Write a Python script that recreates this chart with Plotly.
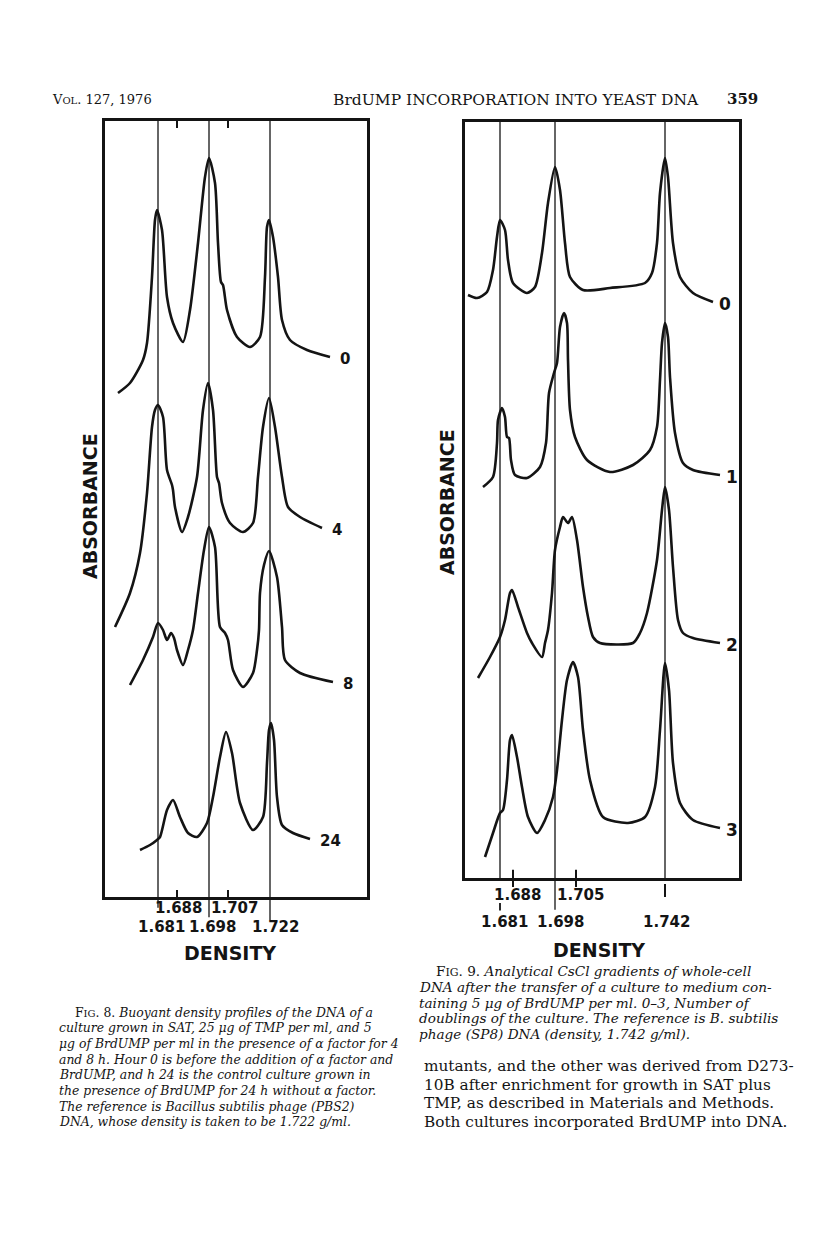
import plotly.graph_objects as go

# ---------------- DATA (read from the scanned page) ----------------
# Fig. 8 (left): positions along the gradient (chart units) of reference densities
F8_REF_LABELS = ["1.681", "1.698", "1.722"]
F8_REF_POS = [53, 104, 165]
F8_MARK_LABELS = ["1.688", "1.707"]
F8_MARK_POS = [72, 123]

# Fig. 8 absorbance traces (position, absorbance incl. vertical offset)
F8_H0_X = [13, 25, 38, 42, 47, 50, 52, 57, 62, 68, 78, 85, 93, 100, 104, 110, 113, 116, 118, 122, 132, 145, 155, 160, 162, 164, 168, 173, 177, 185, 202, 225]
F8_H0_Y = [504, 514, 537, 554, 620, 677, 687, 667, 600, 574, 555, 587, 654, 720, 739, 714, 654, 615, 612, 587, 560, 550, 560, 620, 670, 677, 660, 620, 577, 557, 547, 540]
F8_H4_X = [10, 25, 35, 42, 47, 50, 53, 58, 62, 67, 68, 70, 77, 83, 92, 98, 103, 108, 112, 114, 117, 125, 138, 148, 153, 158, 164, 170, 177, 183, 195, 217]
F8_H4_Y = [270, 304, 344, 404, 470, 487, 492, 480, 427, 412, 407, 390, 365, 380, 420, 487, 514, 487, 420, 414, 394, 374, 365, 374, 420, 470, 499, 470, 420, 390, 380, 369]
F8_H8_X = [25, 38, 48, 53, 58, 62, 66, 69, 72, 78, 83, 88, 93, 99, 104, 110, 115, 120, 123, 128, 138, 148, 152, 154, 155, 159, 164, 172, 177, 180, 195, 228]
F8_H8_Y = [212, 237, 260, 274, 267, 257, 264, 259, 247, 232, 247, 267, 304, 347, 370, 350, 270, 264, 257, 227, 210, 224, 247, 267, 304, 332, 346, 320, 270, 237, 224, 215]
F8_H24_X = [35, 45, 52, 55, 62, 68, 75, 83, 92, 102, 108, 115, 121, 127, 135, 148, 158, 162, 164, 166, 169, 172, 177, 188, 205]
F8_H24_Y = [47, 52, 57, 60, 87, 97, 80, 64, 60, 74, 100, 140, 165, 144, 94, 67, 80, 134, 167, 174, 157, 100, 72, 64, 58]
F8_CURVE_NAMES = ["0", "4", "8", "24"]

# Fig. 9 (right)
F9_REF_LABELS = ["1.681", "1.698", "1.742"]
F9_REF_POS = [35, 90, 200]
F9_MARK_LABELS = ["1.688", "1.705"]
F9_MARK_POS = [48, 111]

F9_D0_X = [3, 12, 22, 28, 32, 35, 40, 43, 48, 62, 70, 77, 83, 90, 95, 100, 105, 118, 145, 180, 187, 192, 195, 200, 203, 208, 215, 228, 248]
F9_D0_Y = [583, 580, 586, 608, 641, 658, 648, 618, 595, 585, 591, 625, 675, 711, 688, 635, 601, 588, 590, 595, 605, 635, 685, 720, 701, 635, 601, 585, 576]
F9_D1_X = [18, 28, 32, 33, 37, 40, 42, 44, 46, 50, 62, 75, 81, 84, 89, 92, 95, 99, 102, 103, 105, 110, 122, 145, 168, 185, 192, 195, 197, 200, 203, 205, 210, 218, 228, 255]
F9_D1_Y = [391, 401, 435, 458, 470, 461, 441, 440, 418, 403, 400, 411, 435, 485, 505, 515, 551, 565, 555, 518, 468, 441, 418, 406, 413, 428, 451, 498, 535, 555, 541, 501, 445, 415, 408, 403]
F9_D2_X = [13, 25, 35, 40, 45, 47, 53, 62, 67, 77, 80, 83, 87, 90, 95, 98, 103, 107, 112, 118, 123, 128, 135, 168, 175, 182, 192, 197, 200, 204, 208, 213, 218, 228, 255]
F9_D2_Y = [200, 221, 241, 258, 285, 288, 271, 245, 235, 221, 235, 248, 285, 328, 351, 361, 355, 361, 338, 291, 261, 241, 235, 235, 245, 265, 318, 368, 391, 368, 311, 258, 245, 240, 235]
F9_D3_X = [20, 28, 35, 38, 42, 45, 47, 52, 57, 63, 72, 80, 88, 92, 97, 102, 108, 113, 118, 125, 138, 163, 180, 190, 195, 200, 204, 208, 215, 228, 255]
F9_D3_Y = [21, 45, 65, 68, 98, 138, 143, 121, 91, 61, 45, 58, 81, 108, 158, 198, 216, 201, 148, 98, 61, 55, 61, 91, 148, 215, 188, 115, 75, 58, 50]
F9_CURVE_NAMES = ["0", "1", "2", "3"]

# ---------------- FIGURE ----------------
PAGE_W, PAGE_H = 816, 1240
OFF = 8                      # default body margin of the html page
W, H = PAGE_W - 2 * OFF, PAGE_H - 2 * OFF
INK = "#141414"
fig = go.Figure()

def px(xp):
    return (xp - OFF) / W

def py(yp):
    return 1 - (yp - OFF) / H

# page boxes in pixel terms -> axis domains
L_BOX = dict(x0=105, x1=367, top=121, bottom=897)
R_BOX = dict(x0=465, x1=739, top=122, bottom=878)

def dom_x(b):
    return [px(b["x0"]), px(b["x1"])]

def dom_y(b):
    return [py(b["bottom"]), py(b["top"])]

curve_line = dict(color=INK, width=2.6, shape="spline", smoothing=0.7)
for xs, ys in [(F8_H0_X, F8_H0_Y), (F8_H4_X, F8_H4_Y), (F8_H8_X, F8_H8_Y), (F8_H24_X, F8_H24_Y)]:
    fig.add_trace(go.Scatter(x=xs, y=ys, mode="lines", line=curve_line, xaxis="x", yaxis="y", showlegend=False, hoverinfo="skip"))
for xs, ys in [(F9_D0_X, F9_D0_Y), (F9_D1_X, F9_D1_Y), (F9_D2_X, F9_D2_Y), (F9_D3_X, F9_D3_Y)]:
    fig.add_trace(go.Scatter(x=xs, y=ys, mode="lines", line=curve_line, xaxis="x2", yaxis="y2", showlegend=False, hoverinfo="skip"))

axis_common = dict(showline=True, linecolor=INK, linewidth=2.6,
                   showgrid=False, zeroline=False, showticklabels=False, fixedrange=True)

fig.update_layout(
    width=W, height=H, margin=dict(l=0, r=0, t=0, b=0),
    paper_bgcolor="white", plot_bgcolor="white",
    xaxis=dict(domain=dom_x(L_BOX), range=[0, L_BOX["x1"] - L_BOX["x0"]], anchor="y",
               tickmode="array", tickvals=F8_MARK_POS, ticks="inside", ticklen=7, tickwidth=2,
               tickcolor=INK, mirror="ticks", **axis_common),
    yaxis=dict(domain=dom_y(L_BOX), range=[0, L_BOX["bottom"] - L_BOX["top"]], anchor="x", ticks="", mirror=True, **axis_common),
    xaxis2=dict(domain=dom_x(R_BOX), range=[0, R_BOX["x1"] - R_BOX["x0"]], anchor="y2", ticks="", mirror=True, **axis_common),
    yaxis2=dict(domain=dom_y(R_BOX), range=[0, R_BOX["bottom"] - R_BOX["top"]], anchor="x2", ticks="", mirror=True, **axis_common),
)

def vseg(xref, yref, x, y0, y1, width=1.3):
    fig.add_shape(type="line", xref=xref, yref=yref, x0=x, x1=x, y0=y0, y1=y1,
                  line=dict(color=INK, width=width), layer="above")

# Fig. 8 reference lines (extend slightly below the frame)
for pos, ext in zip(F8_REF_POS, [-0.014, -0.026, -0.030]):
    vseg("x", "y domain", pos, ext, 1)

# Fig. 9 reference lines, stubs and crossing ticks
vseg("x2", "y2 domain", F9_REF_POS[0], 0, 1)
vseg("x2", "y2 domain", F9_REF_POS[0], -0.033, -0.043, 1.8)
vseg("x2", "y2 domain", F9_REF_POS[1], -0.042, 1)
vseg("x2", "y2 domain", F9_REF_POS[2], 0, 1)
vseg("x2", "y2 domain", F9_REF_POS[2], -0.008, -0.025, 2)
for pos in F9_MARK_POS:
    vseg("x2", "y2 domain", pos, 0.011, -0.012, 2)

lab_font = dict(family="DejaVu Sans", size=15, color=INK, weight="bold")
den_font = dict(family="DejaVu Sans", size=19, color=INK, weight="bold")

def label(xref, yref, x, y, text, font):
    fig.add_annotation(xref=xref, yref=yref, x=x, y=y, text=text, showarrow=False,
                       xanchor="center", yanchor="middle", font=font)

# Fig. 8 density labels
for pos, t, dx in zip(F8_MARK_POS, F8_MARK_LABELS, [1, 6]):
    label("x", "y domain", pos + dx, -0.0145, t, lab_font)
for pos, t, dx in zip(F8_REF_POS, F8_REF_LABELS, [3, 3, 5]):
    label("x", "y domain", pos + dx, -0.039, t, lab_font)
label("x", "y domain", 125, -0.072, "DENSITY", den_font)

# Fig. 9 density labels
for pos, t, dx in zip(F9_MARK_POS, F9_MARK_LABELS, [4, 4]):
    label("x2", "y2 domain", pos + dx, -0.0225, t, lab_font)
for pos, t, dx in zip(F9_REF_POS, F9_REF_LABELS, [4, 5, 1]):
    label("x2", "y2 domain", pos + dx, -0.058, t, lab_font)
label("x2", "y2 domain", 134, -0.0955, "DENSITY", den_font)

# ABSORBANCE titles
for xp, yp in [(90, 506), (447, 502)]:
    fig.add_annotation(xref="paper", yref="paper", x=px(xp), y=py(yp), text="ABSORBANCE",
                       textangle=-90, showarrow=False, xanchor="center", yanchor="middle",
                       font=dict(family="DejaVu Sans", size=19, color=INK, weight="bold"))

# curve labels
cl_font = dict(family="DejaVu Sans", size=15, color=INK, weight="bold")
for name, xs, ys in zip(F8_CURVE_NAMES, [F8_H0_X, F8_H4_X, F8_H8_X, F8_H24_X], [F8_H0_Y, F8_H4_Y, F8_H8_Y, F8_H24_Y]):
    fig.add_annotation(xref="x", yref="y", x=xs[-1] + 8, y=ys[-1] - 2, text=name, showarrow=False,
                       xanchor="left", yanchor="middle", font=cl_font)
for name, xs, ys in zip(F9_CURVE_NAMES, [F9_D0_X, F9_D1_X, F9_D2_X, F9_D3_X], [F9_D0_Y, F9_D1_Y, F9_D2_Y, F9_D3_Y]):
    fig.add_annotation(xref="x2", yref="y2", x=xs[-1] + 4, y=ys[-1] - 2, text=name, showarrow=False,
                       xanchor="left", yanchor="middle", font=dict(family="DejaVu Sans", size=17, color=INK, weight="bold"))

# ---------------- page text ----------------
def ptext(xp, yp, text, size, family="DejaVu Serif", anchor="left", weight="normal"):
    fig.add_annotation(xref="paper", yref="paper", x=px(xp), y=py(yp), text=text, showarrow=False,
                       xanchor=anchor, yanchor="middle",
                       font=dict(family=family, size=size, color=INK, weight=weight))

ptext(50, 100, "V<span style='font-size:10px'>OL</span>. 127, 1976", 13)
ptext(701, 100, "BrdUMP INCORPORATION INTO YEAST DNA", 15.5, anchor="right")
ptext(725, 99, "359", 15, weight="bold")

SC = "<span style='font-size:10px'>IG</span>"
fig8_caption = [
    "F" + SC + ". 8. <i>Buoyant density profiles of the DNA of a</i>",
    "<i>culture grown in SAT, 25 μg of TMP per ml, and 5</i>",
    "<i>μg of BrdUMP per ml in the presence of α factor for 4</i>",
    "<i>and 8 h. Hour 0 is before the addition of α factor and</i>",
    "<i>BrdUMP, and h 24 is the control culture grown in</i>",
    "<i>the presence of BrdUMP for 24 h without α factor.</i>",
    "<i>The reference is Bacillus subtilis phage (PBS2)</i>",
    "<i>DNA, whose density is taken to be 1.722 g/ml.</i>",
]
for i, t in enumerate(fig8_caption):
    ptext(73 if i == 0 else 57, 1012 + i * 15.7, t, 12.4)

SC9 = "<span style='font-size:11px'>IG</span>"
fig9_caption = [
    "F" + SC9 + ". 9. <i>Analytical CsCl gradients of whole-cell</i>",
    "<i>DNA after the transfer of a culture to medium con-</i>",
    "<i>taining 5 μg of BrdUMP per ml. 0–3, Number of</i>",
    "<i>doublings of the culture. The reference is B. subtilis</i>",
    "<i>phage (SP8) DNA (density, 1.742 g/ml).</i>",
]
for i, t in enumerate(fig9_caption):
    ptext(434 if i == 0 else 417, 971 + i * 15.8, t, 13.6)

body = [
    "mutants, and the other was derived from D273-",
    "10B after enrichment for growth in SAT plus",
    "TMP, as described in Materials and Methods.",
    "Both cultures incorporated BrdUMP into DNA.",
]
for i, t in enumerate(body):
    ptext(422, 1066 + i * 18.7, t, 15.3)

fig.write_html("out.html")
